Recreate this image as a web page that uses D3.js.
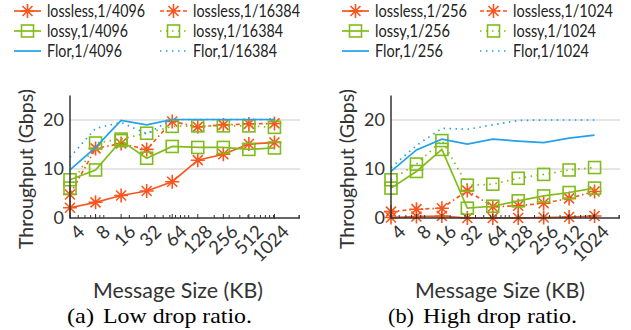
<!DOCTYPE html>
<html><head><meta charset="utf-8">
<script src="https://cdn.jsdelivr.net/npm/d3@7"></script>
<style>body{margin:0;background:#fff}svg{display:block}</style>
</head><body>
<svg id="c" width="631" height="330"></svg>
<script>
const sizes = [4, 8, 16, 32, 64, 128, 256, 512, 1024];
const sizeLabels = ["4","8","16","32","64","128","256","512","1024"];
const yTicks = [0, 10, 20];

// Panel (a) low drop ratio
const aLossless4096  = [2.1, 3.2, 4.6, 5.5, 7.4, 11.8, 13.0, 15.1, 15.4];
const aLossless16384 = [4.8, 14.2, 15.2, 14.0, 19.7, 18.6, 19.0, 19.2, 19.3];
const aLossy4096     = [7.8, 9.8, 15.8, 12.2, 14.6, 14.4, 14.4, 14.0, 14.3];
const aLossy16384    = [6.1, 15.3, 16.1, 17.3, 18.7, 18.8, 18.8, 18.8, 18.5];
const aFlor4096      = [9.8, 14.4, 19.9, 19.0, 20.1, 20.1, 20.1, 20.1, 20.1];
const aFlor16384     = [12.4, 18.3, 19.5, 17.2, 20.1, 20.1, 20.1, 20.1, 20.1];

// Panel (b) high drop ratio
const bLossless256   = [0.1, 0.3, 0.4, 0.0, 0.0, 0.0, 0.1, 0.2, 0.4];
const bLossless1024  = [1.3, 1.8, 2.0, 5.6, 2.3, 2.5, 3.0, 4.0, 5.4];
const bLossy256      = [6.1, 9.5, 14.0, 2.0, 2.4, 3.5, 4.5, 5.2, 6.1];
const bLossy1024     = [7.8, 11.0, 15.8, 6.7, 6.9, 8.1, 8.9, 9.8, 10.3];
const bFlor256       = [9.5, 13.9, 16.1, 15.1, 16.1, 15.7, 15.4, 16.3, 16.9];
const bFlor1024      = [10.3, 14.8, 18.3, 18.1, 19.0, 19.9, 20.0, 20.0, 20.0];

const namesA = ["lossless,1/4096","lossless,1/16384","lossy,1/4096","lossy,1/16384","Flor,1/4096","Flor,1/16384"];
const namesB = ["lossless,1/256","lossless,1/1024","lossy,1/256","lossy,1/1024","Flor,1/256","Flor,1/1024"];
const xTitle = "Message Size (KB)";
const yTitle = "Throughput (Gbps)";
const capTags = ["(a)", "(b)"];
const capTexts = ["Low drop ratio.", "High drop ratio."];

const ORANGE = "#f9561e", GREEN = "#82bc1a", BLUE = "#22a2ea";
const styles = [
  {color: ORANGE, dash: null, marker: "ast"},
  {color: ORANGE, dash: "4,3,1.5,3", marker: "ast"},
  {color: GREEN, dash: null, marker: "sq"},
  {color: GREEN, dash: "1.5,4.5", marker: "sq"},
  {color: BLUE, dash: null, marker: null},
  {color: BLUE, dash: "1.5,4.5", marker: null}
];

const svg = d3.select("#c");
const FONT = "Lato, 'Open Sans', sans-serif";
const SERIF = "'Liberation Serif', 'Times New Roman', serif";

function fitWidth(sel, w) {
  return sel.attr("textLength", w).attr("lengthAdjust", "spacingAndGlyphs");
}

function drawMarker(g, type, x, y, color) {
  if (type === "ast") {
    const r = 7, d = 5;
    const p = `M${x-r},${y}L${x+r},${y}M${x},${y-r}L${x},${y+r}M${x-d},${y-d}L${x+d},${y+d}M${x-d},${y+d}L${x+d},${y-d}`;
    g.append("path").attr("d", p).attr("stroke", color).attr("stroke-width", 1.6).attr("fill", "none");
  } else if (type === "sq") {
    g.append("rect").attr("x", x-6).attr("y", y-6).attr("width", 12).attr("height", 12)
      .attr("fill", "none").attr("stroke", color).attr("stroke-width", 1.6);
  }
}

function panel(cfg, idx) {
  const g = svg.append("g");
  const x = d3.scaleLog().base(2).domain([4, 2048]).range([cfg.x0, cfg.x1]);
  const y = d3.scaleLinear().domain([0, 25]).range([218, 95.5]);

  g.selectAll(".grid").data(yTicks.filter(t => t > 0)).enter().append("line")
    .attr("x1", cfg.x0).attr("x2", cfg.x1).attr("y1", d => y(d)).attr("y2", d => y(d))
    .attr("stroke", "#dcdcdc").attr("stroke-width", 1.6);

  g.selectAll(".yl").data(yTicks).enter().append("text")
    .attr("x", cfg.x0 - 6).attr("y", d => y(d)).attr("dy", "0.36em")
    .attr("text-anchor", "end").attr("font-family", FONT).attr("font-size", 18).attr("fill", "#333")
    .text(d => d);

  cfg.series.forEach((vals, i) => {
    const st = styles[i];
    const line = d3.line().x((d, j) => x(sizes[j])).y(d => y(d));
    g.append("path").datum(vals).attr("d", line).attr("fill", "none")
      .attr("stroke", st.color).attr("stroke-width", 1.7)
      .attr("stroke-dasharray", st.dash);
    if (st.marker) vals.forEach((v, j) => drawMarker(g, st.marker, x(sizes[j]), y(v), st.color));
  });

  g.append("line").attr("x1", cfg.x0).attr("x2", cfg.x0).attr("y1", y(25)).attr("y2", y(0))
    .attr("stroke", "#333").attr("stroke-width", 1.5);
  g.append("line").attr("x1", cfg.x0).attr("x2", cfg.x1).attr("y1", y(0)).attr("y2", y(0))
    .attr("stroke", "#333").attr("stroke-width", 1.6);

  const minor = [];
  [1, 10, 100, 1000].forEach(m => { for (let k = 1; k <= 9; k++) { const v = k*m; if (v >= 4 && v <= 2048) minor.push(v); } });
  minor.push(2000);
  g.selectAll(".mt").data(minor).enter().append("line")
    .attr("x1", d => x(d)).attr("x2", d => x(d)).attr("y1", y(0) - 3).attr("y2", y(0))
    .attr("stroke", "#333").attr("stroke-width", 1);
  g.selectAll(".Mt").data(sizes).enter().append("line")
    .attr("x1", d => x(d)).attr("x2", d => x(d)).attr("y1", y(0) - 4).attr("y2", y(0) + 1)
    .attr("stroke", "#333").attr("stroke-width", 1);

  g.selectAll(".xl").data(sizes).enter().append("text")
    .attr("transform", d => `translate(${x(d) + 6},${y(0) + 5}) rotate(-45)`)
    .attr("text-anchor", "end").attr("dy", "0.75em")
    .attr("font-family", FONT).attr("font-size", 18.5).attr("fill", "#333")
    .text((d, i) => sizeLabels[i]);

  fitWidth(g.append("text").attr("transform", `translate(${cfg.x0 - 44},169) rotate(-90)`)
    .attr("text-anchor", "middle").attr("dy", "0.35em")
    .attr("font-family", FONT).attr("font-size", 20).attr("fill", "#333").text(yTitle), 160);

  fitWidth(g.append("text").attr("x", cfg.xt).attr("y", 291).attr("dy", "0.35em").attr("text-anchor", "start")
    .attr("font-family", FONT).attr("font-size", 20.5).attr("fill", "#333").text(xTitle), 170);

  fitWidth(g.append("text").attr("x", cfg.cap[0]).attr("y", 316).attr("dy", "0.35em")
    .attr("font-family", SERIF).attr("font-size", 21).attr("fill", "#000").text(capTags[idx]), cfg.cap[1]);
  fitWidth(g.append("text").attr("x", cfg.cap[2]).attr("y", 316).attr("dy", "0.35em")
    .attr("font-family", SERIF).attr("font-size", 21).attr("fill", "#000").text(capTexts[idx]), cfg.cap[3]);

  cfg.names.forEach((n, i) => {
    const col = i % 2, row = Math.floor(i / 2);
    const lx0 = cfg.leg[col], ly = 11 + row * 20;
    const st = styles[i];
    g.append("line").attr("x1", lx0).attr("x2", lx0 + 27).attr("y1", ly).attr("y2", ly)
      .attr("stroke", st.color).attr("stroke-width", 1.7).attr("stroke-dasharray", st.dash);
    if (st.marker) drawMarker(g, st.marker, lx0 + 13.5, ly, st.color);
    fitWidth(g.append("text").attr("x", lx0 + 33).attr("y", ly).attr("dy", "0.35em")
      .attr("font-family", FONT).attr("font-size", 16.5).attr("fill", "#222").text(n), cfg.legW[i]);
  });
}

panel({x0: 70, x1: 300, xt: 93, cap: [67, 27, 103, 149], names: namesA, leg: [14, 160],
  legW: [98, 107, 81, 90, 75, 84],
  series: [aLossless4096, aLossless16384, aLossy4096, aLossy16384, aFlor4096, aFlor16384]}, 0);
panel({x0: 391, x1: 620, xt: 415, cap: [388, 26, 423, 154], names: namesB, leg: [342, 480],
  legW: [92, 100, 75, 83, 68, 76],
  series: [bLossless256, bLossless1024, bLossy256, bLossy1024, bFlor256, bFlor1024]}, 1);
</script>
</body></html>
